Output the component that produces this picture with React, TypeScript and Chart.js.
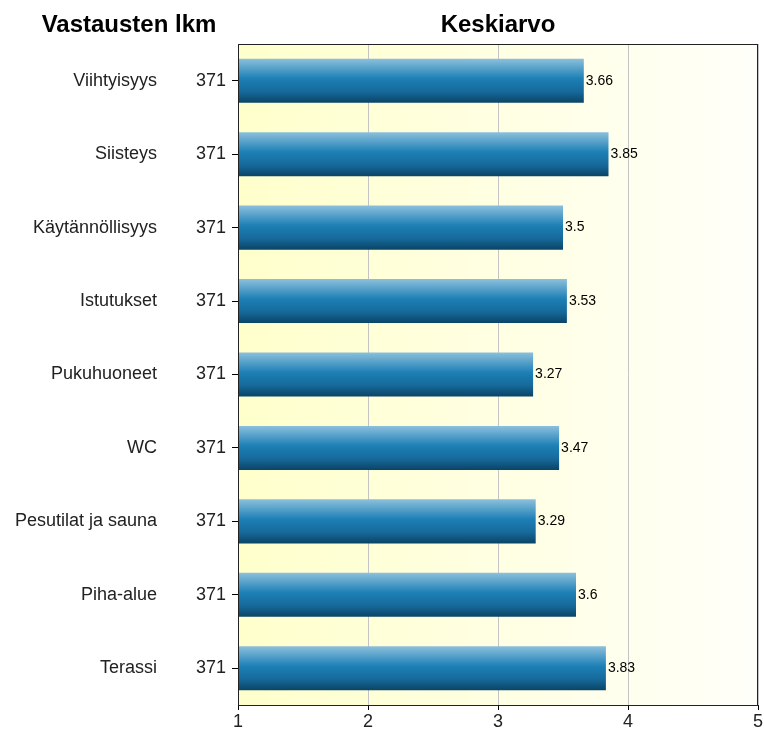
import React, { useEffect, useRef } from "react";
import { Chart, registerables } from "chart.js";

Chart.register(...registerables);

const categories = [
  "Viihtyisyys",
  "Siisteys",
  "Käytännöllisyys",
  "Istutukset",
  "Pukuhuoneet",
  "WC",
  "Pesutilat ja sauna",
  "Piha-alue",
  "Terassi",
];
const counts = [371, 371, 371, 371, 371, 371, 371, 371, 371];
const averages = [3.66, 3.85, 3.5, 3.53, 3.27, 3.47, 3.29, 3.6, 3.83];
const xTicks = [1, 2, 3, 4, 5];
const leftTitle = "Vastausten lkm";
const rightTitle = "Keskiarvo";

const FONT = "'Liberation Sans', Arial, sans-serif";

export default function App() {
  const ref = useRef<HTMLCanvasElement | null>(null);

  useEffect(() => {
    const canvas = ref.current;
    if (!canvas) return;

    const bgPlugin = {
      id: "bgPlugin",
      beforeDraw(chart: any) {
        const { ctx, chartArea } = chart;
        if (!chartArea || !isFinite(chartArea.left) || !isFinite(chartArea.right)) return;
        const g = ctx.createLinearGradient(chartArea.left, 0, chartArea.right, 0);
        g.addColorStop(0, "#ffffcc");
        g.addColorStop(1, "#fffffa");
        ctx.save();
        ctx.fillStyle = "#ffffff";
        ctx.fillRect(0, 0, chart.width, chart.height);
        ctx.fillStyle = g;
        ctx.fillRect(chartArea.left, chartArea.top, chartArea.right - chartArea.left, chartArea.bottom - chartArea.top);
        ctx.restore();
      },
      afterDraw(chart: any) {
        const { ctx, chartArea } = chart;
        ctx.save();
        ctx.strokeStyle = "#222";
        ctx.lineWidth = 1;
        ctx.strokeRect(chartArea.left + 0.5, chartArea.top + 0.5, chartArea.right - chartArea.left - 1, chartArea.bottom - chartArea.top);
        ctx.fillStyle = "#000";
        ctx.font = `bold 24px ${FONT}`;
        ctx.textAlign = "center";
        ctx.textBaseline = "alphabetic";
        ctx.fillText(leftTitle, 129, 32);
        ctx.fillText(rightTitle, (chartArea.left + chartArea.right) / 2, 32);
        ctx.restore();
      },
    };

    const valuePlugin = {
      id: "valuePlugin",
      afterDatasetsDraw(chart: any) {
        const { ctx } = chart;
        const meta = chart.getDatasetMeta(0);
        ctx.save();
        ctx.fillStyle = "#000";
        ctx.font = `14px ${FONT}`;
        ctx.textAlign = "left";
        ctx.textBaseline = "middle";
        meta.data.forEach((el: any, i: number) => {
          ctx.fillText(String(averages[i]), el.x + 2, el.y);
        });
        ctx.restore();
      },
    };

    const barFill = (c: any) => {
      const chart = c.chart;
      const ys = chart.scales && chart.scales.y;
      if (!ys || c.dataIndex === undefined) return "#1a7db0";
      const center = ys.getPixelForValue(c.dataIndex);
      const half = ((ys.bottom - ys.top) / categories.length) * 0.6 / 2;
      if (!isFinite(center) || !isFinite(half) || half <= 0) return "#1a7db0";
      const g = chart.ctx.createLinearGradient(0, center - half, 0, center + half);
      g.addColorStop(0, "#8cc0dc");
      g.addColorStop(0.45, "#1d80b6");
      g.addColorStop(0.75, "#16699a");
      g.addColorStop(1, "#0a4466");
      return g;
    };

    const chart = new Chart(canvas, {
      type: "bar",
      data: {
        labels: categories,
        datasets: [
          {
            data: averages,
            yAxisID: "y",
            barPercentage: 0.6,
            categoryPercentage: 1,
            borderWidth: 0,
            backgroundColor: barFill,
          },
        ],
      },
      options: {
        indexAxis: "y",
        animation: false,
        responsive: false,
        maintainAspectRatio: false,
        layout: { padding: { top: 44, right: 6, left: 0, bottom: 0 } },
        plugins: {
          legend: { display: false },
          tooltip: { enabled: false },
          title: { display: false },
        },
        scales: {
          x: {
            type: "linear",
            position: "bottom",
            min: 1,
            max: 5,
            afterBuildTicks: (scale: any) => {
              scale.ticks = xTicks.map((v) => ({ value: v }));
            },
            afterFit: (scale: any) => {
              scale.height = 26;
              scale.paddingLeft = 0;
              scale.paddingRight = 0;
            },
            ticks: {
              font: { family: FONT, size: 18 },
              color: "#222",
              padding: 1,
              maxRotation: 0,
            },
            grid: {
              color: "#c4c4c4",
              tickColor: "#000",
              tickLength: 5,
              tickWidth: 1,
              lineWidth: 1,
            },
            border: { color: "#222" },
          },
          y: {
            type: "category",
            position: "left",
            weight: 0,
            afterFit: (scale: any) => {
              scale.width = 81;
            },
            ticks: {
              font: { family: FONT, size: 18 },
              color: "#222",
              padding: 6,
              callback: (_v: any, i: number) => String(counts[i]),
            },
            grid: {
              offset: false,
              drawOnChartArea: false,
              tickColor: "#000",
              tickWidth: 1,
              tickLength: 6,
            },
            border: { color: "#222" },
          },
          y2: {
            type: "category",
            position: "left",
            weight: 1,
            labels: categories,
            afterFit: (scale: any) => {
              scale.width = 157;
            },
            ticks: {
              font: { family: FONT, size: 18 },
              color: "#222",
              padding: 0,
            },
            grid: { display: false, drawTicks: false },
            border: { display: false },
          },
        },
      },
      plugins: [bgPlugin, valuePlugin],
    } as any);

    return () => chart.destroy();
  }, []);

  return (
    <div style={{ position: "absolute", left: 0, top: 0, width: 764, height: 731 }}>
      <canvas ref={ref} width={764} height={731} />
    </div>
  );
}
